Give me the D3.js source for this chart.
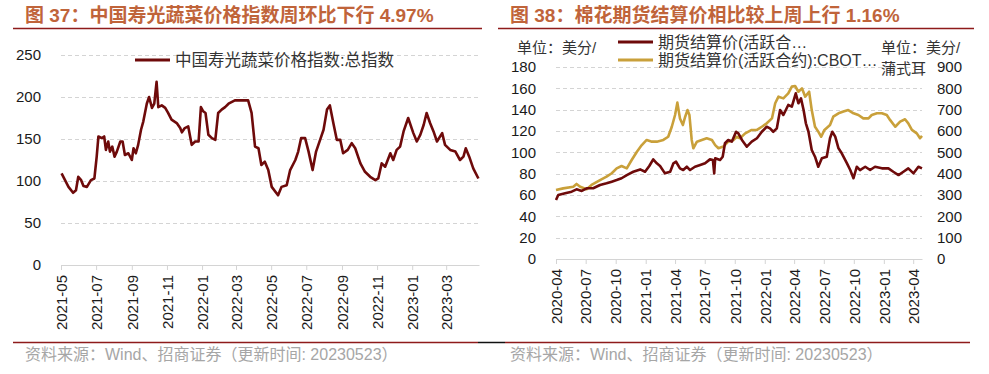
<!DOCTYPE html>
<html>
<head>
<meta charset="utf-8">
<script src="https://cdn.jsdelivr.net/npm/d3@7"></script>
<style>
  body { margin: 0; background: #fff; }
  svg { display: block; }
  text { font-family: "Liberation Sans", Arial, "Noto Sans CJK SC", sans-serif; }
  .cjk { font-family: "Liberation Sans", "Noto Sans CJK SC", sans-serif; }
</style>
</head>
<body>
<svg id="chart" width="989" height="374"></svg>
<script>
// ---- left panel data: 寿光蔬菜价格指数 ----
var vegDates = ["2021-05-02","2021-05-08","2021-05-14","2021-05-22","2021-05-27","2021-05-31","2021-06-05","2021-06-09","2021-06-15","2021-06-22",
  "2021-06-28","2021-07-02","2021-07-05","2021-07-11","2021-07-15","2021-07-18","2021-07-22","2021-07-25","2021-07-29","2021-08-02",
  "2021-08-06","2021-08-12","2021-08-16","2021-08-20","2021-08-26","2021-09-01","2021-09-04","2021-09-08","2021-09-12","2021-09-17",
  "2021-09-21","2021-09-27","2021-10-01","2021-10-06","2021-10-10","2021-10-14","2021-10-17","2021-10-23","2021-10-29","2021-11-03",
  "2021-11-09","2021-11-18","2021-11-24","2021-11-27","2021-12-02","2021-12-08","2021-12-14","2021-12-20","2021-12-26","2021-12-30",
  "2022-01-03","2022-01-07","2022-01-12","2022-01-18","2022-01-24","2022-01-29","2022-02-04","2022-02-10","2022-02-16","2022-02-27",
  "2022-03-22","2022-03-28","2022-04-03","2022-04-09","2022-04-14","2022-04-20","2022-04-26","2022-05-02","2022-05-13","2022-05-19",
  "2022-05-28","2022-06-03","2022-06-12","2022-06-17","2022-06-22","2022-06-29","2022-07-05","2022-07-12","2022-07-18","2022-07-25",
  "2022-07-31","2022-08-06","2022-08-11","2022-08-17","2022-08-23","2022-08-29","2022-09-03","2022-09-11","2022-09-18","2022-09-24",
  "2022-10-03","2022-10-11","2022-10-20","2022-10-29","2022-11-03","2022-11-09","2022-11-15","2022-11-24","2022-11-29","2022-12-05",
  "2022-12-11","2022-12-17","2022-12-25","2022-12-31","2023-01-03","2023-01-09","2023-01-15","2023-01-21","2023-01-26","2023-02-01",
  "2023-02-07","2023-02-13","2023-02-22","2023-02-27","2023-03-08","2023-03-17","2023-03-25","2023-03-31","2023-04-04","2023-04-10",
  "2023-04-17","2023-04-26"];
var vegIndex = [109,101,93,86,89,105,101,94,93,101,
  103,129,153,151,153,137,147,135,141,129,
  135,147,147,131,133,125,139,133,143,161,
  171,192,200,187,192,218,188,190,187,181,
  173,169,163,158,163,165,143,147,147,188,
  183,181,155,151,149,181,185,188,192,196,
  196,181,141,139,119,123,113,93,83,93,
  95,113,125,135,151,151,135,113,135,149,
  161,185,190,169,149,149,133,137,145,139,
  121,111,105,101,103,121,117,133,125,137,
  141,159,175,163,157,147,155,167,181,169,
  159,147,157,143,137,135,125,129,139,129,
  115,103];
var vegTicks = ["2021-05","2021-07","2021-09","2021-11","2022-01","2022-03","2022-05","2022-07","2022-09","2022-11","2023-01","2023-03"];
var vegYTicks = [0, 50, 100, 150, 200, 250];

// ---- right panel data: 棉花 (左轴) / CBOT (右轴) ----
var cottonDates = ["2020-04-01","2020-04-08","2020-04-29","2020-05-19","2020-06-03","2020-06-19","2020-07-04","2020-07-24","2020-08-14","2020-09-03",
  "2020-09-19","2020-10-04","2020-10-19","2020-11-04","2020-11-24","2020-12-15","2020-12-30","2021-01-12","2021-01-24","2021-02-04",
  "2021-02-14","2021-03-01","2021-03-17","2021-03-27","2021-04-04","2021-04-16","2021-04-26","2021-05-07","2021-05-17","2021-06-01",
  "2021-06-17","2021-07-02","2021-07-17","2021-07-26","2021-07-30","2021-08-02","2021-08-17","2021-08-25","2021-09-01","2021-09-11",
  "2021-09-22","2021-10-05","2021-10-12","2021-10-23","2021-11-07","2021-11-22","2021-12-08","2021-12-23","2022-01-07","2022-01-17",
  "2022-01-27","2022-02-07","2022-02-17","2022-02-27","2022-03-14","2022-03-25","2022-04-06","2022-04-14","2022-04-22","2022-04-30",
  "2022-05-07","2022-05-15","2022-05-25","2022-06-04","2022-06-14","2022-06-25","2022-07-10","2022-07-20","2022-07-27","2022-08-05",
  "2022-08-15","2022-08-25","2022-09-10","2022-09-20","2022-09-30","2022-10-10","2022-10-20","2022-11-05","2022-11-20","2022-12-05",
  "2022-12-26","2023-01-15","2023-01-30","2023-02-15","2023-03-02","2023-03-17","2023-04-02","2023-04-17","2023-04-28"];
var cottonPrice = [55.3,60,61.6,63.1,65.3,63.8,66.3,66.3,69.4,71,
  72.5,74,75.7,78.7,81.8,84,81.8,87.2,93.4,89.7,
  87.2,80.3,81.8,89.7,91.2,85,83.4,86.5,83.4,86.5,
  88.1,89.7,93.4,92.8,80.3,94.4,92.8,95.9,108.5,111.6,
  110,119.3,117.8,111.6,105.3,110,113.2,119.3,124,122.5,
  119.3,122.5,139.7,135,144.4,142.8,155.3,146,150.6,139.7,
  127.2,119.3,102.2,95.9,86.5,94.4,95.9,113.2,119.3,114.7,
  103.8,99.1,89.7,83.4,75.7,86.5,83.4,86.5,83.4,86.5,
  85,85,81.8,78.7,81.8,85,80.3,86.5,85];
var cornDates = ["2020-04-01","2020-04-23","2020-05-24","2020-06-03","2020-06-14","2020-07-04","2020-07-19","2020-08-14","2020-09-03","2020-09-19",
  "2020-10-04","2020-10-19","2020-11-04","2020-11-19","2020-12-05","2020-12-20","2021-01-04","2021-01-20","2021-02-04","2021-02-24",
  "2021-03-11","2021-03-22","2021-04-01","2021-04-08","2021-04-16","2021-04-25","2021-05-02","2021-05-09","2021-05-15","2021-05-22",
  "2021-05-27","2021-06-07","2021-06-22","2021-07-07","2021-07-23","2021-08-02","2021-08-12","2021-08-27","2021-09-11","2021-09-27",
  "2021-10-07","2021-10-17","2021-11-02","2021-11-22","2021-12-08","2021-12-23","2022-01-07","2022-01-23","2022-02-02","2022-02-12",
  "2022-02-27","2022-03-14","2022-03-25","2022-04-04","2022-04-14","2022-04-25","2022-05-05","2022-05-17","2022-05-25","2022-06-04",
  "2022-06-14","2022-06-23","2022-07-03","2022-07-20","2022-07-30","2022-08-15","2022-08-30","2022-09-14","2022-09-30","2022-10-15",
  "2022-10-30","2022-11-15","2022-11-25","2022-12-11","2022-12-26","2023-01-10","2023-01-20","2023-02-05","2023-02-20","2023-03-07",
  "2023-03-17","2023-03-28","2023-04-12","2023-04-22","2023-04-28"];
var cornPrice = [323,331,339,352,339,327,347,370,386,402,
  425,436,425,464,503,534,558,550,550,558,
  573,620,675,733,659,628,667,698,675,558,
  519,550,558,566,558,534,519,527,550,558,
  573,566,589,605,605,620,636,659,730,761,
  753,776,808,811,784,800,761,784,698,620,
  597,573,605,628,667,683,691,698,683,675,
  659,659,675,683,683,675,652,620,644,655,
  636,605,589,566,577];
var cottonTicks = ["2020-04","2020-07","2020-10","2021-01","2021-04","2021-07","2021-10","2022-01","2022-04","2022-07","2022-10","2023-01","2023-04"];
var cottonYTicks = [0,20,40,60,80,100,120,140,160,180];
var cornYTicks = [0,100,200,300,400,500,600,700,800,900];

var parseDay = d3.timeParse("%Y-%m-%d"),
    parseMonth = d3.timeParse("%Y-%m");

var svg = d3.select("#chart");
var titleColor = "#c0643a",
    ruleColor = "#8e1b1b",
    darkRed = "#6e0a0a",
    gold = "#c9a03a",
    gridColor = "#d4d4d4";

function header(x0, x1, tx, label) {
  svg.append("text").attr("class", "cjk")
    .attr("x", tx).attr("y", 22)
    .attr("fill", titleColor)
    .style("font-size", "19px").style("font-weight", "bold")
    .text(label);
  svg.append("line")
    .attr("x1", x0).attr("x2", x1).attr("y1", 28.5).attr("y2", 28.5)
    .attr("stroke", ruleColor).attr("stroke-width", 1.5);
}

function footer(x0, x1, tx) {
  svg.append("line")
    .attr("x1", x0).attr("x2", x1).attr("y1", 342.5).attr("y2", 342.5)
    .attr("stroke", ruleColor).attr("stroke-width", 1.5);
  svg.append("text").attr("class", "cjk")
    .attr("x", tx).attr("y", 360)
    .attr("fill", "#a6a6a6")
    .style("font-size", "16px")
    .text("资料来源：Wind、招商证券（更新时间: 20230523）");
}

function grid(g, y, values, x0, x1) {
  g.selectAll(null).data(values.filter(function(v) { return v > 0; }))
    .enter().append("line")
    .attr("x1", x0).attr("x2", x1)
    .attr("y1", function(d) { return Math.round(y(d)) + 0.5; })
    .attr("y2", function(d) { return Math.round(y(d)) + 0.5; })
    .attr("stroke", gridColor).attr("stroke-dasharray", "4,3");
}

function xAxis(g, x, ticks, yPos) {
  var ax = d3.axisBottom(x)
    .tickValues(ticks.map(parseMonth))
    .tickFormat(d3.timeFormat("%Y-%m"))
    .tickSize(5).tickSizeOuter(0);
  var a = g.append("g").attr("transform", "translate(0," + yPos + ")").call(ax);
  a.select(".domain").attr("stroke", gridColor);
  a.selectAll(".tick line").attr("stroke", gridColor);
  a.selectAll(".tick text")
    .attr("transform", "rotate(-90)")
    .attr("x", -10).attr("y", 0).attr("dy", "0.35em")
    .style("text-anchor", "end")
    .style("font-size", "15px").attr("fill", "#1a1a1a");
}

// ================= left panel =================
header(13, 482, 25, "图 37：中国寿光蔬菜价格指数周环比下行 4.97%");

var lx = d3.scaleTime().domain([parseMonth("2021-05"), parseDay("2023-04-27")]).range([61, 479]);
var ly = d3.scaleLinear().domain([0, 250]).range([265, 55]);
var left = svg.append("g");

grid(left, ly, vegYTicks, 61, 479);
xAxis(left, lx, vegTicks, 265);

left.selectAll(null).data(vegYTicks).enter().append("text")
  .attr("x", 41).attr("y", function(d) { return ly(d); }).attr("dy", "0.35em")
  .style("text-anchor", "end").style("font-size", "15px").attr("fill", "#1a1a1a")
  .text(function(d) { return d; });

var vegLine = d3.line()
  .x(function(d, i) { return lx(parseDay(vegDates[i])); })
  .y(function(d) { return ly(d); });

left.append("path").datum(vegIndex)
  .attr("d", vegLine)
  .attr("fill", "none").attr("stroke", darkRed)
  .attr("stroke-width", 2.6).attr("stroke-linejoin", "round");

left.append("line").attr("x1", 135).attr("x2", 170).attr("y1", 60).attr("y2", 60)
  .attr("stroke", darkRed).attr("stroke-width", 3);
left.append("text").attr("class", "cjk")
  .attr("x", 175).attr("y", 60).attr("dy", "0.35em")
  .style("font-size", "16.5px").attr("fill", "#333")
  .text("中国寿光蔬菜价格指数:总指数");

footer(13, 478, 25);

// ================= right panel =================
header(498, 974, 510, "图 38：棉花期货结算价相比较上周上行 1.16%");

var rx = d3.scaleTime().domain([parseMonth("2020-04"), parseDay("2023-04-28")]).range([556, 922]);
var ryL = d3.scaleLinear().domain([0, 180]).range([259, 67]);
var ryR = d3.scaleLinear().domain([0, 900]).range([259, 67]);
var right = svg.append("g");

grid(right, ryL, cottonYTicks, 556, 922);
xAxis(right, rx, cottonTicks, 259);

right.selectAll(null).data(cottonYTicks).enter().append("text")
  .attr("x", 536).attr("y", function(d) { return ryL(d); }).attr("dy", "0.35em")
  .style("text-anchor", "end").style("font-size", "15px").attr("fill", "#1a1a1a")
  .text(function(d) { return d; });

right.selectAll(null).data(cornYTicks).enter().append("text")
  .attr("x", 937).attr("y", function(d) { return ryR(d); }).attr("dy", "0.35em")
  .style("text-anchor", "start").style("font-size", "15px").attr("fill", "#1a1a1a")
  .text(function(d) { return d; });

right.append("text").attr("class", "cjk").attr("x", 517).attr("y", 53)
  .style("font-size", "15px").attr("fill", "#333").text("单位：美分/");
right.append("text").attr("class", "cjk").attr("x", 881).attr("y", 53)
  .style("font-size", "15px").attr("fill", "#333").text("单位：美分/");
right.append("text").attr("class", "cjk").attr("x", 881).attr("y", 74)
  .style("font-size", "15px").attr("fill", "#333").text("蒲式耳");

var cornLine = d3.line()
  .x(function(d, i) { return rx(parseDay(cornDates[i])); })
  .y(function(d) { return ryR(d); });
var cottonLine = d3.line()
  .x(function(d, i) { return rx(parseDay(cottonDates[i])); })
  .y(function(d) { return ryL(d); });

right.append("path").datum(cornPrice)
  .attr("d", cornLine)
  .attr("fill", "none").attr("stroke", gold)
  .attr("stroke-width", 2.6).attr("stroke-linejoin", "round");
right.append("path").datum(cottonPrice)
  .attr("d", cottonLine)
  .attr("fill", "none").attr("stroke", darkRed)
  .attr("stroke-width", 2.6).attr("stroke-linejoin", "round");

right.append("line").attr("x1", 618).attr("x2", 653).attr("y1", 42).attr("y2", 42)
  .attr("stroke", darkRed).attr("stroke-width", 3);
right.append("text").attr("class", "cjk").attr("x", 658).attr("y", 42).attr("dy", "0.35em")
  .style("font-size", "16px").attr("fill", "#333").text("期货结算价(活跃合…");
right.append("line").attr("x1", 618).attr("x2", 653).attr("y1", 60).attr("y2", 60)
  .attr("stroke", gold).attr("stroke-width", 3);
right.append("text").attr("class", "cjk").attr("x", 658).attr("y", 60).attr("dy", "0.35em")
  .style("font-size", "16px").attr("fill", "#333").text("期货结算价(活跃合约):CBOT…");

footer(505, 970, 510);
svg.append("line").attr("x1", 478).attr("x2", 505).attr("y1", 342.5).attr("y2", 342.5)
  .attr("stroke", "#111").attr("stroke-width", 1.5);
</script>
</body>
</html>
